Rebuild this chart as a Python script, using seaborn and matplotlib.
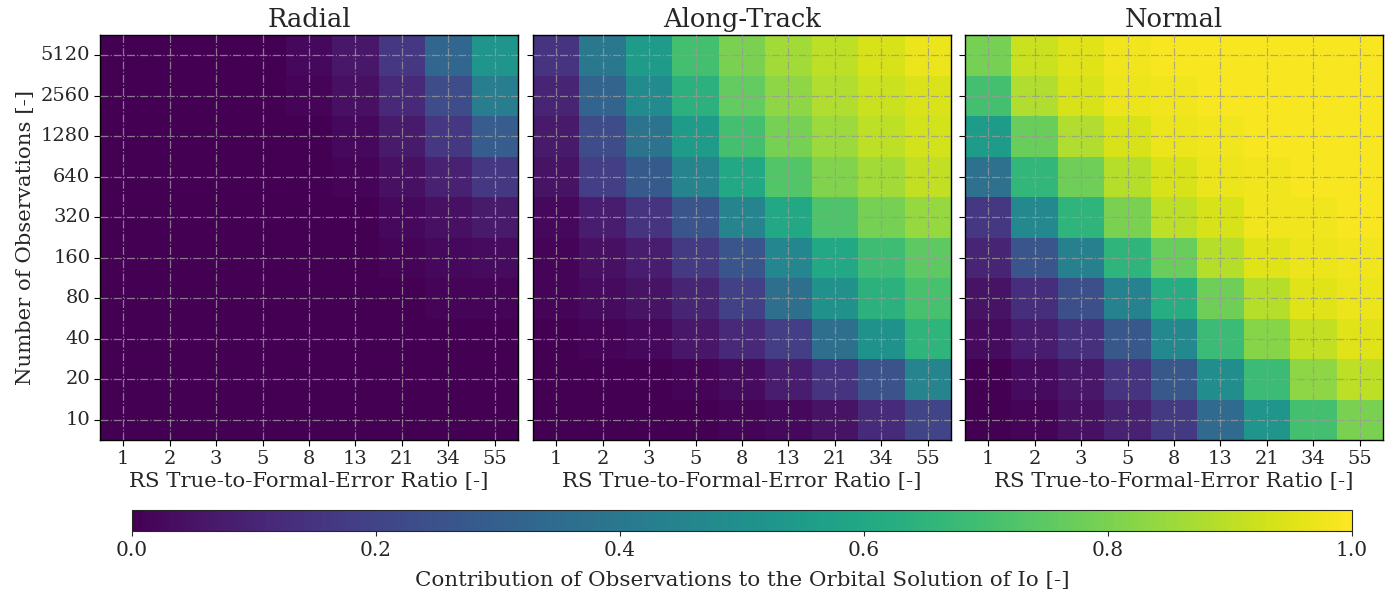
import numpy as np
import pandas as pd
import matplotlib
matplotlib.use("Agg")
import matplotlib.pyplot as plt
import seaborn as sns

ratios = ["1", "2", "3", "5", "8", "13", "21", "34", "55"]
n_obs = ["5120", "2560", "1280", "640", "320", "160", "80", "40", "20", "10"]
titles = ["Radial", "Along-Track", "Normal"]

radial = [
    [0.00, 0.00, 0.00, 0.00, 0.02, 0.06, 0.16, 0.33, 0.52],
    [0.00, 0.00, 0.00, 0.00, 0.01, 0.04, 0.11, 0.23, 0.42],
    [0.00, 0.00, 0.00, 0.00, 0.00, 0.02, 0.07, 0.16, 0.29],
    [0.00, 0.00, 0.00, 0.00, 0.00, 0.01, 0.04, 0.09, 0.16],
    [0.00, 0.00, 0.00, 0.00, 0.00, 0.00, 0.02, 0.04, 0.07],
    [0.00, 0.00, 0.00, 0.00, 0.00, 0.00, 0.01, 0.02, 0.03],
    [0.00, 0.00, 0.00, 0.00, 0.00, 0.00, 0.00, 0.01, 0.01],
    [0.00, 0.00, 0.00, 0.00, 0.00, 0.00, 0.00, 0.00, 0.00],
    [0.00, 0.00, 0.00, 0.00, 0.00, 0.00, 0.00, 0.00, 0.00],
    [0.00, 0.00, 0.00, 0.00, 0.00, 0.00, 0.00, 0.00, 0.00],
]

along_track = [
    [0.15, 0.40, 0.55, 0.70, 0.80, 0.86, 0.90, 0.94, 0.97],
    [0.10, 0.32, 0.48, 0.64, 0.76, 0.83, 0.88, 0.92, 0.945],
    [0.07, 0.23, 0.38, 0.55, 0.70, 0.79, 0.85, 0.90, 0.93],
    [0.05, 0.18, 0.28, 0.45, 0.60, 0.73, 0.81, 0.86, 0.91],
    [0.02, 0.08, 0.15, 0.26, 0.45, 0.60, 0.72, 0.79, 0.84],
    [0.01, 0.04, 0.08, 0.17, 0.26, 0.46, 0.60, 0.69, 0.75],
    [0.01, 0.03, 0.05, 0.10, 0.19, 0.36, 0.50, 0.64, 0.71],
    [0.00, 0.01, 0.02, 0.06, 0.11, 0.18, 0.36, 0.51, 0.65],
    [0.00, 0.00, 0.00, 0.01, 0.03, 0.08, 0.15, 0.25, 0.45],
    [0.00, 0.00, 0.00, 0.00, 0.01, 0.02, 0.05, 0.12, 0.20],
]

normal = [
    [0.79, 0.92, 0.95, 0.98, 0.99, 0.99, 0.99, 0.99, 0.99],
    [0.70, 0.88, 0.94, 0.97, 0.98, 0.99, 0.99, 0.99, 0.99],
    [0.55, 0.77, 0.88, 0.94, 0.97, 0.98, 0.99, 0.99, 0.99],
    [0.37, 0.66, 0.78, 0.89, 0.94, 0.97, 0.98, 0.99, 0.99],
    [0.16, 0.47, 0.65, 0.80, 0.90, 0.94, 0.98, 0.98, 0.99],
    [0.10, 0.26, 0.43, 0.65, 0.77, 0.89, 0.95, 0.97, 0.98],
    [0.05, 0.13, 0.24, 0.44, 0.62, 0.78, 0.89, 0.95, 0.97],
    [0.03, 0.08, 0.14, 0.27, 0.47, 0.68, 0.82, 0.91, 0.95],
    [0.00, 0.03, 0.06, 0.15, 0.27, 0.49, 0.68, 0.83, 0.90],
    [0.00, 0.01, 0.04, 0.09, 0.17, 0.34, 0.52, 0.70, 0.80],
]

datasets = [radial, along_track, normal]

sns.set_style("white")
plt.rcParams["font.family"] = ["DejaVu Serif"]

fig = plt.figure(figsize=(14, 5.93), dpi=100)
W, H = 1400, 593
panel_x = [100, 533, 965]
panel_w = 418
top, bottom = 35, 440

for i, (title, data) in enumerate(zip(titles, datasets)):
    ax = fig.add_axes([panel_x[i] / W, (H - bottom) / H, panel_w / W, (bottom - top) / H])
    df = pd.DataFrame(data, index=n_obs, columns=ratios)
    sns.heatmap(df, ax=ax, cmap="viridis", vmin=0, vmax=1, cbar=False)
    for sp in ax.spines.values():
        sp.set_visible(True)
        sp.set_color("black")
        sp.set_linewidth(1.0)
    ax.set_axisbelow(False)
    ax.grid(True, linestyle="-.", color="#999999", alpha=0.8, linewidth=0.9)
    ax.set_title(title, fontsize=18.5, pad=6)
    ax.set_xlabel("RS True-to-Formal-Error Ratio [-]", fontsize=15.3, labelpad=3)
    ax.tick_params(axis="both", labelsize=14, length=4, width=0.8, direction="out",
                   left=True, bottom=True, color="black", pad=3)
    ax.set_xticklabels(ratios, rotation=0)
    if i == 0:
        ax.set_yticklabels(n_obs, rotation=0)
        ax.set_ylabel("Number of Observations [-]", fontsize=15.3)
    else:
        ax.set_yticklabels([])
        ax.set_ylabel("")

cax = fig.add_axes([132 / W, (H - 531) / H, 1220 / W, 21 / H])
sm = plt.cm.ScalarMappable(cmap="viridis", norm=plt.Normalize(0, 1))
cb = fig.colorbar(sm, cax=cax, orientation="horizontal")
cb.set_ticks([0.0, 0.2, 0.4, 0.6, 0.8, 1.0])
cb.ax.tick_params(labelsize=14.5)
cb.set_label("Contribution of Observations to the Orbital Solution of Io [-]", fontsize=15.4, labelpad=8)

fig.savefig("out.png", dpi=100)
